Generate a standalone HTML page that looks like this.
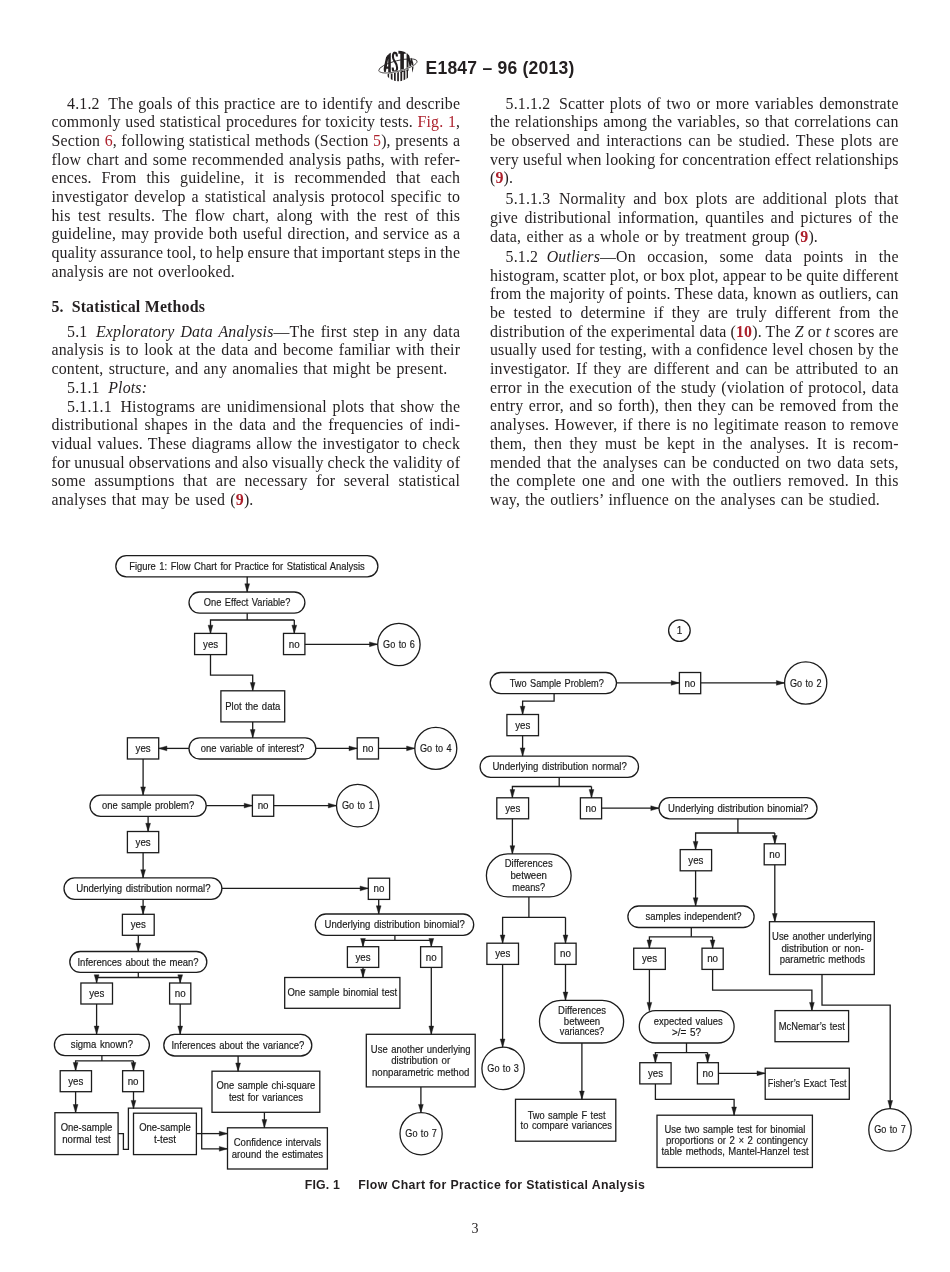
<!DOCTYPE html>
<html><head><meta charset="utf-8"><title>E1847 - 96 (2013)</title>
<style>
html,body{margin:0;padding:0;background:#fff;}
body{width:950px;height:1272px;position:relative;overflow:hidden;font-family:"Liberation Serif",serif;color:#231f20;}
.l{position:absolute;white-space:nowrap;font-size:15.90px;line-height:20px;height:20px;text-align:justify;text-align-last:justify;letter-spacing:0.15px;word-spacing:-1.6px;}
.r{color:#ac1f2b;}
.ns{display:inline-block;width:8.6px;}
.hd{position:absolute;left:425.5px;top:58.4px;font-family:"Liberation Sans",sans-serif;font-weight:bold;font-size:17.5px;letter-spacing:0.24px;line-height:20px;white-space:nowrap;color:#231f20;}
.cap{position:absolute;top:1176.7px;font-family:"Liberation Sans",sans-serif;font-weight:bold;font-size:12.3px;line-height:16px;white-space:pre;color:#231f20;}
.pn{position:absolute;left:465px;top:1221.1px;width:20px;text-align:center;font-size:14px;line-height:16px;}
svg.fc{position:absolute;left:0;top:0;}
svg.fc rect,svg.fc circle,svg.fc path{fill:none;stroke:#1c1c1c;stroke-width:1.30;}
svg.fc polygon.ah{fill:#1c1c1c;stroke:#1c1c1c;stroke-width:0.4;}
svg.fc text{font-family:"Liberation Sans",sans-serif;fill:#1a1a1a;stroke:#1a1a1a;stroke-width:0.18px;text-anchor:middle;word-spacing:1px;}
#pg{position:absolute;left:0;top:0;width:950px;height:1272px;will-change:transform;}
</style></head><body><div id="pg">
<svg style="position:absolute;left:370px;top:44px" width="60" height="44" viewBox="0 0 60 44">
<defs><clipPath id="lg"><circle cx="28.3" cy="22.0" r="15.2"/></clipPath></defs>
<g clip-path="url(#lg)" fill="#231f20">
<rect x="17.6" y="22" width="1.5" height="17"/>
<rect x="20.8" y="22" width="1.7" height="17"/>
<rect x="24.0" y="22" width="1.7" height="17"/>
<rect x="27.2" y="22" width="1.7" height="17"/>
<rect x="30.4" y="22" width="1.8" height="17"/>
<rect x="33.6" y="22" width="1.7" height="17"/>
<rect x="36.6" y="22" width="1.4" height="17"/>
</g>
<ellipse cx="27.90" cy="21.90" rx="19.70" ry="5.30" transform="rotate(-14.0 27.90 21.90)" fill="#fff" stroke="#fff" stroke-width="1.6"/>
<ellipse cx="27.90" cy="21.90" rx="19.70" ry="5.30" transform="rotate(-14.0 27.90 21.90)" fill="none" stroke="#231f20" stroke-width="0.8"/>
<g clip-path="url(#lg)" fill="#231f20" fill-rule="evenodd">
<path d="M12.6 29.4 L16.9 9.0 L20.8 7.0 L20.8 29.6 L18.2 29.6 L18.2 24.8 L16.4 24.8 L15.5 29.6 Z M16.8 22.6 L18.2 22.6 L18.2 14.5 Z"/>
<path d="M26.9 12.6 C26.9 7.4 22.9 7.4 22.9 12.4 C22.9 17.8 27.1 17.4 27.1 23.8 C27.1 29.2 22.7 29.2 22.7 23.6" fill="none" stroke="#231f20" stroke-width="2.1"/>
<path d="M28.4 6.0 L35.8 6.0 L35.8 9.8 L33.9 9.8 L33.9 27.8 L30.3 28.4 L30.3 9.8 L28.4 9.8 Z"/>
<path d="M36.6 27.2 L36.6 8.0 L38.7 8.0 L40.3 17.0 L41.7 11.0 L44.4 11.0 L44.4 31.0 L42.0 31.0 L42.0 18.6 L40.9 23.6 L39.7 23.6 L38.5 16.6 L38.5 26.8 Z"/>
</g>
<path d="M47.04 17.70 L46.95 18.10 L46.76 18.52 L46.48 18.96 L46.10 19.41 L45.64 19.87 L45.10 20.34 L44.46 20.82 L43.75 21.31 L42.96 21.80 L42.10 22.29 L41.17 22.78 L40.17 23.26 L39.12 23.74 L38.01 24.20 L36.85 24.66 L35.64 25.10 L34.40 25.53 L33.13 25.94 L31.83 26.33 L30.51 26.70 L29.18 27.04 L27.85 27.36 L26.51 27.66 L25.18 27.92 L23.86 28.16 L22.57 28.36 L21.30 28.54 L20.06 28.68 L18.86 28.79 L17.70 28.86 L16.60 28.90 L15.54 28.91 L14.55 28.88 L13.63 28.82 L12.77 28.73 L11.99 28.60 L11.28 28.44 L10.66 28.25 L10.12 28.02 L9.66 27.77 L9.30 27.49 L9.02 27.18" fill="none" stroke="#fff" stroke-width="1.6"/>
<path d="M47.04 17.70 L46.95 18.10 L46.76 18.52 L46.48 18.96 L46.10 19.41 L45.64 19.87 L45.10 20.34 L44.46 20.82 L43.75 21.31 L42.96 21.80 L42.10 22.29 L41.17 22.78 L40.17 23.26 L39.12 23.74 L38.01 24.20 L36.85 24.66 L35.64 25.10 L34.40 25.53 L33.13 25.94 L31.83 26.33 L30.51 26.70 L29.18 27.04 L27.85 27.36 L26.51 27.66 L25.18 27.92 L23.86 28.16 L22.57 28.36 L21.30 28.54 L20.06 28.68 L18.86 28.79 L17.70 28.86 L16.60 28.90 L15.54 28.91 L14.55 28.88 L13.63 28.82 L12.77 28.73 L11.99 28.60 L11.28 28.44 L10.66 28.25 L10.12 28.02 L9.66 27.77 L9.30 27.49 L9.02 27.18" fill="none" stroke="#231f20" stroke-width="0.8"/>
</svg>
<div class="hd">E1847 – 96 (2013)</div>
<div class="l" style="left:67.1px;top:93.6px;width:393.0px">4.1.2<span class="ns"></span>The goals of this practice are to identify and describe</div>
<div class="l" style="left:51.5px;top:112.3px;width:408.6px">commonly used statistical procedures for toxicity tests. <span class="r">Fig. 1</span>,</div>
<div class="l" style="left:51.5px;top:131.0px;width:408.6px">Section <span class="r">6</span>, following statistical methods (Section <span class="r">5</span>), presents a</div>
<div class="l" style="left:51.5px;top:149.7px;width:408.6px">flow chart and some recommended analysis paths, with refer-</div>
<div class="l" style="left:51.5px;top:168.4px;width:408.6px">ences. From this guideline, it is recommended that each</div>
<div class="l" style="left:51.5px;top:187.1px;width:408.6px">investigator develop a statistical analysis protocol specific to</div>
<div class="l" style="left:51.5px;top:205.7px;width:408.6px">his test results. The flow chart, along with the rest of this</div>
<div class="l" style="left:51.5px;top:224.4px;width:408.6px">guideline, may provide both useful direction, and service as a</div>
<div class="l" style="left:51.5px;top:243.1px;width:408.6px">quality assurance tool, to help ensure that important steps in the</div>
<div class="l" style="left:51.5px;top:261.8px;width:183.5px">analysis are not overlooked.</div>
<div class="l" style="left:51.5px;top:296.7px;width:11.5px"><b>5.</b></div>
<div class="l" style="left:71.7px;top:296.7px;width:133.3px"><b>Statistical Methods</b></div>
<div class="l" style="left:67.1px;top:321.7px;width:393.0px">5.1<span class="ns"></span><i>Exploratory Data Analysis</i>—The first step in any data</div>
<div class="l" style="left:51.5px;top:340.4px;width:408.6px">analysis is to look at the data and become familiar with their</div>
<div class="l" style="left:51.5px;top:359.1px;width:396.0px">content, structure, and any anomalies that might be present.</div>
<div class="l" style="left:67.1px;top:377.8px;width:77.9px">5.1.1<span class="ns"></span><i>Plots:</i></div>
<div class="l" style="left:67.1px;top:396.5px;width:393.0px">5.1.1.1<span class="ns"></span>Histograms are unidimensional plots that show the</div>
<div class="l" style="left:51.5px;top:415.1px;width:408.6px">distributional shapes in the data and the frequencies of indi-</div>
<div class="l" style="left:51.5px;top:433.8px;width:408.6px">vidual values. These diagrams allow the investigator to check</div>
<div class="l" style="left:51.5px;top:452.5px;width:408.6px">for unusual observations and also visually check the validity of</div>
<div class="l" style="left:51.5px;top:471.2px;width:408.6px">some assumptions that are necessary for several statistical</div>
<div class="l" style="left:51.5px;top:489.9px;width:202.0px">analyses that may be used (<b class="r">9</b>).</div>
<div class="l" style="left:505.6px;top:93.5px;width:393.0px">5.1.1.2<span class="ns"></span>Scatter plots of two or more variables demonstrate</div>
<div class="l" style="left:490.0px;top:112.2px;width:408.6px">the relationships among the variables, so that correlations can</div>
<div class="l" style="left:490.0px;top:130.9px;width:408.6px">be observed and interactions can be studied. These plots are</div>
<div class="l" style="left:490.0px;top:149.6px;width:408.6px">very useful when looking for concentration effect relationships</div>
<div class="l" style="left:490.0px;top:168.3px;width:22.5px">(<b class="r">9</b>).</div>
<div class="l" style="left:505.6px;top:189.3px;width:393.0px">5.1.1.3<span class="ns"></span>Normality and box plots are additional plots that</div>
<div class="l" style="left:490.0px;top:208.0px;width:408.6px">give distributional information, quantiles and pictures of the</div>
<div class="l" style="left:490.0px;top:226.7px;width:328.0px">data, either as a whole or by treatment group (<b class="r">9</b>).</div>
<div class="l" style="left:505.6px;top:246.9px;width:393.0px">5.1.2<span class="ns"></span><i>Outliers</i>—On occasion, some data points in the</div>
<div class="l" style="left:490.0px;top:265.6px;width:408.6px">histogram, scatter plot, or box plot, appear to be quite different</div>
<div class="l" style="left:490.0px;top:284.3px;width:408.6px">from the majority of points. These data, known as outliers, can</div>
<div class="l" style="left:490.0px;top:303.0px;width:408.6px">be tested to determine if they are truly different from the</div>
<div class="l" style="left:490.0px;top:321.7px;width:408.6px">distribution of the experimental data (<b class="r">10</b>). The <i>Z</i> or <i>t</i> scores are</div>
<div class="l" style="left:490.0px;top:340.3px;width:408.6px">usually used for testing, with a confidence level chosen by the</div>
<div class="l" style="left:490.0px;top:359.0px;width:408.6px">investigator. If they are different and can be attributed to an</div>
<div class="l" style="left:490.0px;top:377.7px;width:408.6px">error in the execution of the study (violation of protocol, data</div>
<div class="l" style="left:490.0px;top:396.4px;width:408.6px">entry error, and so forth), then they can be removed from the</div>
<div class="l" style="left:490.0px;top:415.1px;width:408.6px">analyses. However, if there is no legitimate reason to remove</div>
<div class="l" style="left:490.0px;top:433.8px;width:408.6px">them, then they must be kept in the analyses. It is recom-</div>
<div class="l" style="left:490.0px;top:452.5px;width:408.6px">mended that the analyses can be conducted on two data sets,</div>
<div class="l" style="left:490.0px;top:471.2px;width:408.6px">the complete one and one with the outliers removed. In this</div>
<div class="l" style="left:490.0px;top:489.9px;width:390.0px">way, the outliers’ influence on the analyses can be studied.</div>
<svg class="fc" width="950" height="1272" viewBox="0 0 950 1272">
<rect x="115.8" y="555.6" width="262.1" height="21.2" rx="10.6" ry="10.6"/>
<text transform="translate(247.0 569.7) scale(0.887 1)" font-size="10.60">Figure 1: Flow Chart for Practice for Statistical Analysis</text>
<rect x="189.0" y="592.0" width="115.9" height="21.2" rx="10.6" ry="10.6"/>
<text transform="translate(247.1 606.1) scale(0.878 1)" font-size="10.60">One Effect Variable?</text>
<rect x="194.6" y="633.4" width="31.9" height="21.2"/>
<text transform="translate(210.6 647.5) scale(0.915 1)" font-size="10.60">yes</text>
<rect x="283.5" y="633.4" width="21.4" height="21.2"/>
<text transform="translate(294.2 647.5) scale(0.924 1)" font-size="10.60">no</text>
<circle cx="398.9" cy="644.5" r="21.2"/>
<text transform="translate(398.9 648.0) scale(0.860 1)" font-size="10.60">Go to 6</text>
<rect x="220.9" y="690.8" width="63.8" height="31.1"/>
<text transform="translate(252.8 709.8) scale(0.897 1)" font-size="10.60">Plot the data</text>
<rect x="189.0" y="737.8" width="126.8" height="21.2" rx="10.6" ry="10.6"/>
<text transform="translate(252.4 751.9) scale(0.893 1)" font-size="10.60">one variable of interest?</text>
<rect x="127.4" y="737.8" width="31.3" height="21.2"/>
<text transform="translate(143.1 751.9) scale(0.915 1)" font-size="10.60">yes</text>
<rect x="357.2" y="737.8" width="21.3" height="21.2"/>
<text transform="translate(367.9 751.9) scale(0.924 1)" font-size="10.60">no</text>
<circle cx="435.8" cy="748.4" r="21.0"/>
<text transform="translate(435.8 751.9) scale(0.860 1)" font-size="10.60">Go to 4</text>
<rect x="90.0" y="795.1" width="116.2" height="21.2" rx="10.6" ry="10.6"/>
<text transform="translate(148.1 809.2) scale(0.887 1)" font-size="10.60">one sample problem?</text>
<rect x="252.4" y="795.1" width="21.3" height="21.2"/>
<text transform="translate(263.1 809.2) scale(0.924 1)" font-size="10.60">no</text>
<circle cx="357.7" cy="805.6" r="21.2"/>
<text transform="translate(357.7 809.1) scale(0.860 1)" font-size="10.60">Go to 1</text>
<rect x="127.4" y="831.5" width="31.3" height="21.2"/>
<text transform="translate(143.1 845.6) scale(0.915 1)" font-size="10.60">yes</text>
<rect x="64.0" y="877.9" width="157.9" height="21.4" rx="10.7" ry="10.7"/>
<text transform="translate(143.4 892.1) scale(0.909 1)" font-size="10.60">Underlying distribution normal?</text>
<rect x="368.3" y="878.2" width="21.3" height="21.2"/>
<text transform="translate(379.0 892.3) scale(0.924 1)" font-size="10.60">no</text>
<rect x="122.4" y="914.3" width="31.8" height="21.0"/>
<text transform="translate(138.3 928.3) scale(0.915 1)" font-size="10.60">yes</text>
<rect x="315.3" y="914.0" width="158.4" height="21.3" rx="10.6" ry="10.6"/>
<text transform="translate(394.7 928.1) scale(0.904 1)" font-size="10.60">Underlying distribution binomial?</text>
<rect x="69.8" y="951.5" width="137.0" height="20.9" rx="10.4" ry="10.4"/>
<text transform="translate(138.0 965.5) scale(0.898 1)" font-size="10.60">Inferences about the mean?</text>
<rect x="347.4" y="946.7" width="31.3" height="20.7"/>
<text transform="translate(363.0 960.5) scale(0.915 1)" font-size="10.60">yes</text>
<rect x="420.6" y="946.7" width="21.3" height="20.7"/>
<text transform="translate(431.2 960.5) scale(0.924 1)" font-size="10.60">no</text>
<rect x="284.7" y="977.5" width="115.2" height="30.8"/>
<text transform="translate(342.3 996.4) scale(0.895 1)" font-size="10.60">One sample binomial test</text>
<rect x="80.9" y="983.0" width="31.6" height="21.0"/>
<text transform="translate(96.7 997.0) scale(0.915 1)" font-size="10.60">yes</text>
<rect x="169.6" y="983.0" width="21.2" height="21.0"/>
<text transform="translate(180.2 997.0) scale(0.924 1)" font-size="10.60">no</text>
<rect x="54.4" y="1034.3" width="95.0" height="21.3" rx="10.6" ry="10.6"/>
<text transform="translate(101.9 1048.4) scale(0.905 1)" font-size="10.60">sigma known?</text>
<rect x="163.8" y="1034.3" width="148.0" height="21.7" rx="10.9" ry="10.9"/>
<text transform="translate(237.8 1048.7) scale(0.895 1)" font-size="10.60">Inferences about the variance?</text>
<rect x="366.3" y="1034.3" width="108.9" height="52.6"/>
<text transform="translate(420.7 1052.5) scale(0.894 1)" font-size="10.60">Use another underlying</text>
<text transform="translate(420.7 1064.1) scale(0.914 1)" font-size="10.60">distribution or</text>
<text transform="translate(420.7 1076.0) scale(0.911 1)" font-size="10.60">nonparametric method</text>
<rect x="60.2" y="1070.7" width="31.3" height="21.0"/>
<text transform="translate(75.8 1084.7) scale(0.915 1)" font-size="10.60">yes</text>
<rect x="122.6" y="1070.7" width="21.0" height="21.0"/>
<text transform="translate(133.1 1084.7) scale(0.924 1)" font-size="10.60">no</text>
<rect x="212.0" y="1071.2" width="107.8" height="41.1"/>
<text transform="translate(265.9 1089.4) scale(0.886 1)" font-size="10.60">One sample chi-square</text>
<text transform="translate(265.9 1100.5) scale(0.897 1)" font-size="10.60">test for variances</text>
<rect x="54.9" y="1112.7" width="63.2" height="41.9"/>
<text transform="translate(86.5 1130.8) scale(0.895 1)" font-size="10.60">One-sample</text>
<text transform="translate(86.5 1143.0) scale(0.908 1)" font-size="10.60">normal test</text>
<rect x="133.5" y="1113.2" width="62.9" height="41.4"/>
<text transform="translate(165.0 1130.8) scale(0.895 1)" font-size="10.60">One-sample</text>
<text transform="translate(165.0 1143.0) scale(0.942 1)" font-size="10.60">t-test</text>
<rect x="227.5" y="1127.8" width="99.9" height="41.2"/>
<text transform="translate(277.4 1146.2) scale(0.902 1)" font-size="10.60">Confidence intervals</text>
<text transform="translate(277.4 1158.1) scale(0.905 1)" font-size="10.60">around the estimates</text>
<circle cx="421.1" cy="1133.7" r="21.1"/>
<text transform="translate(421.1 1137.2) scale(0.860 1)" font-size="10.60">Go to 7</text>
<path d="M247.2 576.8 L247.2 592.0"/>
<polygon class="ah" points="247.2,592.0 244.8,583.8 249.6,583.8"/>
<path d="M247.2 613.2 L247.2 620.0"/>
<path d="M294.3 620.0 L210.5 620.0 L210.5 633.4"/>
<polygon class="ah" points="210.5,633.4 208.1,625.2 212.9,625.2"/>
<path d="M294.3 620.0 L294.3 633.4"/>
<polygon class="ah" points="294.3,633.4 291.9,625.2 296.7,625.2"/>
<path d="M304.9 644.3 L377.7 644.3"/>
<polygon class="ah" points="377.7,644.3 369.5,646.7 369.5,641.9"/>
<path d="M210.5 654.6 L210.5 675.1 L252.7 675.1 L252.7 690.8"/>
<polygon class="ah" points="252.7,690.8 250.3,682.6 255.1,682.6"/>
<path d="M252.7 721.9 L252.7 737.8"/>
<polygon class="ah" points="252.7,737.8 250.3,729.6 255.1,729.6"/>
<path d="M189.0 748.4 L158.7 748.4"/>
<polygon class="ah" points="158.7,748.4 166.9,746.0 166.9,750.8"/>
<path d="M315.8 748.4 L357.2 748.4"/>
<polygon class="ah" points="357.2,748.4 349.0,750.8 349.0,746.0"/>
<path d="M378.5 748.4 L414.8 748.4"/>
<polygon class="ah" points="414.8,748.4 406.6,750.8 406.6,746.0"/>
<path d="M143.1 759.0 L143.1 795.1"/>
<polygon class="ah" points="143.1,795.1 140.7,786.9 145.5,786.9"/>
<path d="M206.2 805.6 L252.4 805.6"/>
<polygon class="ah" points="252.4,805.6 244.2,808.0 244.2,803.2"/>
<path d="M273.7 805.6 L336.5 805.6"/>
<polygon class="ah" points="336.5,805.6 328.3,808.0 328.3,803.2"/>
<path d="M148.1 816.3 L148.1 831.5"/>
<polygon class="ah" points="148.1,831.5 145.7,823.3 150.5,823.3"/>
<path d="M143.1 852.7 L143.1 877.9"/>
<polygon class="ah" points="143.1,877.9 140.7,869.7 145.5,869.7"/>
<path d="M221.9 888.4 L368.3 888.4"/>
<polygon class="ah" points="368.3,888.4 360.1,890.8 360.1,886.0"/>
<path d="M143.1 899.3 L143.1 914.3"/>
<polygon class="ah" points="143.1,914.3 140.7,906.1 145.5,906.1"/>
<path d="M138.3 935.3 L138.3 951.5"/>
<polygon class="ah" points="138.3,951.5 135.9,943.3 140.7,943.3"/>
<path d="M378.7 899.4 L378.7 914.0"/>
<polygon class="ah" points="378.7,914.0 376.3,905.8 381.1,905.8"/>
<path d="M394.9 935.3 L394.9 940.3"/>
<path d="M431.3 940.3 L363.0 940.3 L363.0 946.7"/>
<polygon class="ah" points="363.0,946.7 360.6,938.5 365.4,938.5"/>
<path d="M431.3 940.3 L431.3 946.7"/>
<polygon class="ah" points="431.3,946.7 428.9,938.5 433.7,938.5"/>
<path d="M363.0 967.4 L363.0 977.5"/>
<polygon class="ah" points="363.0,977.5 360.6,969.3 365.4,969.3"/>
<path d="M431.3 967.4 L431.3 1034.3"/>
<polygon class="ah" points="431.3,1034.3 428.9,1026.1 433.7,1026.1"/>
<path d="M420.9 1086.9 L420.9 1112.6"/>
<polygon class="ah" points="420.9,1112.6 418.5,1104.4 423.3,1104.4"/>
<path d="M138.3 972.4 L138.3 977.5"/>
<path d="M180.2 977.5 L96.6 977.5 L96.6 983.0"/>
<polygon class="ah" points="96.6,983.0 94.2,974.8 99.0,974.8"/>
<path d="M180.2 977.5 L180.2 983.0"/>
<polygon class="ah" points="180.2,983.0 177.8,974.8 182.6,974.8"/>
<path d="M96.6 1004.0 L96.6 1034.3"/>
<polygon class="ah" points="96.6,1034.3 94.2,1026.1 99.0,1026.1"/>
<path d="M180.2 1004.0 L180.2 1034.3"/>
<polygon class="ah" points="180.2,1034.3 177.8,1026.1 182.6,1026.1"/>
<path d="M101.9 1055.6 L101.9 1060.9"/>
<path d="M133.5 1060.9 L75.6 1060.9 L75.6 1070.7"/>
<polygon class="ah" points="75.6,1070.7 73.2,1062.5 78.0,1062.5"/>
<path d="M133.5 1060.9 L133.5 1070.7"/>
<polygon class="ah" points="133.5,1070.7 131.1,1062.5 135.9,1062.5"/>
<path d="M75.6 1091.7 L75.6 1112.7"/>
<polygon class="ah" points="75.6,1112.7 73.2,1104.5 78.0,1104.5"/>
<path d="M133.5 1091.7 L133.5 1108.6"/>
<polygon class="ah" points="133.5,1108.6 131.1,1100.4 135.9,1100.4"/>
<path d="M118.1 1133.6 L123.4 1133.6 L123.4 1149.3 L128.4 1149.3 L128.4 1108.1 L201.7 1108.1 L201.7 1148.8 L227.5 1148.8"/>
<polygon class="ah" points="227.5,1148.8 219.3,1151.2 219.3,1146.4"/>
<path d="M196.4 1133.6 L227.5 1133.6"/>
<polygon class="ah" points="227.5,1133.6 219.3,1136.0 219.3,1131.2"/>
<path d="M238.1 1056.0 L238.1 1071.2"/>
<polygon class="ah" points="238.1,1071.2 235.7,1063.0 240.5,1063.0"/>
<path d="M264.4 1112.3 L264.4 1127.8"/>
<polygon class="ah" points="264.4,1127.8 262.0,1119.6 266.8,1119.6"/>
<circle cx="679.4" cy="630.6" r="10.8"/>
<text transform="translate(679.4 634.3) scale(0.950 1)" font-size="10.50">1</text>
<rect x="490.2" y="672.5" width="126.3" height="21.2" rx="10.6" ry="10.6"/>
<text transform="translate(556.8 686.6) scale(0.867 1)" font-size="10.60">Two Sample Problem?</text>
<rect x="679.4" y="672.5" width="21.3" height="21.2"/>
<text transform="translate(690.0 686.6) scale(0.924 1)" font-size="10.60">no</text>
<circle cx="805.7" cy="683.0" r="21.1"/>
<text transform="translate(805.7 686.5) scale(0.860 1)" font-size="10.60">Go to 2</text>
<rect x="506.9" y="714.5" width="31.6" height="21.2"/>
<text transform="translate(522.7 728.6) scale(0.915 1)" font-size="10.60">yes</text>
<rect x="480.1" y="756.1" width="158.4" height="21.3" rx="10.6" ry="10.6"/>
<text transform="translate(559.6 770.2) scale(0.909 1)" font-size="10.60">Underlying distribution normal?</text>
<rect x="496.8" y="797.8" width="31.8" height="21.0"/>
<text transform="translate(512.7 811.8) scale(0.915 1)" font-size="10.60">yes</text>
<rect x="580.4" y="797.8" width="21.2" height="21.0"/>
<text transform="translate(591.0 811.8) scale(0.924 1)" font-size="10.60">no</text>
<rect x="659.0" y="797.6" width="158.0" height="21.2" rx="10.6" ry="10.6"/>
<text transform="translate(738.2 811.7) scale(0.904 1)" font-size="10.60">Underlying distribution binomial?</text>
<rect x="486.4" y="853.9" width="84.7" height="43.0" rx="21.5" ry="21.5"/>
<text transform="translate(528.7 867.3) scale(0.899 1)" font-size="10.60">Differences</text>
<text transform="translate(528.7 878.7) scale(0.911 1)" font-size="10.60">between</text>
<text transform="translate(528.7 890.5) scale(0.870 1)" font-size="10.60">means?</text>
<rect x="680.2" y="849.6" width="31.4" height="21.2"/>
<text transform="translate(695.9 863.7) scale(0.915 1)" font-size="10.60">yes</text>
<rect x="764.2" y="843.8" width="21.2" height="21.0"/>
<text transform="translate(774.8 857.8) scale(0.924 1)" font-size="10.60">no</text>
<rect x="627.9" y="906.0" width="126.2" height="21.5" rx="10.8" ry="10.8"/>
<text transform="translate(693.6 920.2) scale(0.893 1)" font-size="10.60">samples independent?</text>
<rect x="769.5" y="921.7" width="104.8" height="52.8"/>
<text transform="translate(821.9 939.9) scale(0.894 1)" font-size="10.60">Use another underlying</text>
<text transform="translate(822.5 951.5) scale(0.917 1)" font-size="10.60">distribution or non-</text>
<text transform="translate(822.3 963.4) scale(0.902 1)" font-size="10.60">parametric methods</text>
<rect x="486.9" y="943.2" width="31.6" height="21.2"/>
<text transform="translate(502.7 957.3) scale(0.915 1)" font-size="10.60">yes</text>
<rect x="554.9" y="943.2" width="21.2" height="21.2"/>
<text transform="translate(565.5 957.3) scale(0.924 1)" font-size="10.60">no</text>
<rect x="633.7" y="948.2" width="31.6" height="21.2"/>
<text transform="translate(649.5 962.3) scale(0.915 1)" font-size="10.60">yes</text>
<rect x="702.0" y="948.2" width="21.2" height="21.2"/>
<text transform="translate(712.6 962.3) scale(0.924 1)" font-size="10.60">no</text>
<rect x="539.5" y="1000.3" width="84.1" height="42.7" rx="21.4" ry="21.4"/>
<text transform="translate(582.0 1014.4) scale(0.899 1)" font-size="10.60">Differences</text>
<text transform="translate(582.0 1025.0) scale(0.911 1)" font-size="10.60">between</text>
<text transform="translate(582.0 1035.4) scale(0.868 1)" font-size="10.60">variances?</text>
<rect x="639.3" y="1010.6" width="94.8" height="32.4" rx="16.2" ry="16.2"/>
<text transform="translate(688.2 1025.3) scale(0.889 1)" font-size="10.60">expected values</text>
<text transform="translate(686.6 1035.9) scale(0.937 1)" font-size="10.60">&gt;/= 5?</text>
<rect x="775.0" y="1010.6" width="73.6" height="31.1"/>
<text transform="translate(811.8 1029.7) scale(0.882 1)" font-size="10.60">McNemar’s test</text>
<circle cx="503.1" cy="1068.4" r="21.2"/>
<text transform="translate(503.1 1071.9) scale(0.860 1)" font-size="10.60">Go to 3</text>
<rect x="639.8" y="1062.7" width="31.3" height="21.2"/>
<text transform="translate(655.5 1076.8) scale(0.915 1)" font-size="10.60">yes</text>
<rect x="697.4" y="1062.7" width="21.0" height="21.2"/>
<text transform="translate(707.9 1076.8) scale(0.924 1)" font-size="10.60">no</text>
<rect x="765.2" y="1068.2" width="84.1" height="31.1"/>
<text transform="translate(807.2 1087.2) scale(0.866 1)" font-size="10.60">Fisher’s Exact Test</text>
<rect x="515.5" y="1099.3" width="100.3" height="41.9"/>
<text transform="translate(566.6 1118.8) scale(0.877 1)" font-size="10.60">Two sample F test</text>
<text transform="translate(566.3 1129.4) scale(0.885 1)" font-size="10.60">to compare variances</text>
<rect x="657.0" y="1115.2" width="155.4" height="52.3"/>
<text transform="translate(735.0 1133.4) scale(0.892 1)" font-size="10.60">Use two sample test for binomial</text>
<text transform="translate(736.8 1144.0) scale(0.907 1)" font-size="10.60">proportions or 2 × 2 contingency</text>
<text transform="translate(735.0 1154.9) scale(0.899 1)" font-size="10.60">table methods, Mantel-Hanzel test</text>
<circle cx="890.0" cy="1129.9" r="21.2"/>
<text transform="translate(890.0 1133.4) scale(0.860 1)" font-size="10.60">Go to 7</text>
<path d="M616.5 682.9 L679.4 682.9"/>
<polygon class="ah" points="679.4,682.9 671.2,685.3 671.2,680.5"/>
<path d="M700.7 682.9 L784.6 682.9"/>
<polygon class="ah" points="784.6,682.9 776.4,685.3 776.4,680.5"/>
<path d="M554.1 693.7 L554.1 701.1 L522.6 701.1 L522.6 714.5"/>
<polygon class="ah" points="522.6,714.5 520.2,706.3 525.0,706.3"/>
<path d="M522.6 735.7 L522.6 756.1"/>
<polygon class="ah" points="522.6,756.1 520.2,747.9 525.0,747.9"/>
<path d="M559.2 777.4 L559.2 786.5"/>
<path d="M591.5 786.5 L512.4 786.5 L512.4 797.8"/>
<polygon class="ah" points="512.4,797.8 510.0,789.6 514.8,789.6"/>
<path d="M591.5 786.5 L591.5 797.8"/>
<polygon class="ah" points="591.5,797.8 589.1,789.6 593.9,789.6"/>
<path d="M601.6 808.2 L659.0 808.2"/>
<polygon class="ah" points="659.0,808.2 650.8,810.6 650.8,805.8"/>
<path d="M512.4 818.8 L512.4 853.9"/>
<polygon class="ah" points="512.4,853.9 510.0,845.7 514.8,845.7"/>
<path d="M737.9 818.8 L737.9 833.0"/>
<path d="M774.8 833.0 L695.6 833.0 L695.6 849.6"/>
<polygon class="ah" points="695.6,849.6 693.2,841.4 698.0,841.4"/>
<path d="M774.8 833.0 L774.8 843.8"/>
<polygon class="ah" points="774.8,843.8 772.4,835.6 777.2,835.6"/>
<path d="M695.6 870.8 L695.6 906.0"/>
<polygon class="ah" points="695.6,906.0 693.2,897.8 698.0,897.8"/>
<path d="M774.8 864.8 L774.8 921.7"/>
<polygon class="ah" points="774.8,921.7 772.4,913.5 777.2,913.5"/>
<path d="M528.9 896.9 L528.9 917.4"/>
<path d="M565.5 917.4 L502.6 917.4 L502.6 943.2"/>
<polygon class="ah" points="502.6,943.2 500.2,935.0 505.0,935.0"/>
<path d="M565.5 917.4 L565.5 943.2"/>
<polygon class="ah" points="565.5,943.2 563.1,935.0 567.9,935.0"/>
<path d="M502.6 964.4 L502.6 1047.2"/>
<polygon class="ah" points="502.6,1047.2 500.2,1039.0 505.0,1039.0"/>
<path d="M565.5 964.4 L565.5 1000.3"/>
<polygon class="ah" points="565.5,1000.3 563.1,992.1 567.9,992.1"/>
<path d="M581.9 1043.0 L581.9 1099.3"/>
<polygon class="ah" points="581.9,1099.3 579.5,1091.1 584.3,1091.1"/>
<path d="M691.3 927.5 L691.3 936.8"/>
<path d="M712.6 936.8 L649.4 936.8 L649.4 948.2"/>
<polygon class="ah" points="649.4,948.2 647.0,940.0 651.8,940.0"/>
<path d="M712.6 936.8 L712.6 948.2"/>
<polygon class="ah" points="712.6,948.2 710.2,940.0 715.0,940.0"/>
<path d="M649.4 969.4 L649.4 1010.6"/>
<polygon class="ah" points="649.4,1010.6 647.0,1002.4 651.8,1002.4"/>
<path d="M712.6 969.4 L712.6 990.2 L811.9 990.2 L811.9 1010.6"/>
<polygon class="ah" points="811.9,1010.6 809.5,1002.4 814.3,1002.4"/>
<path d="M822.0 974.5 L822.0 1005.1 L890.2 1005.1 L890.2 1108.7"/>
<polygon class="ah" points="890.2,1108.7 887.8,1100.5 892.6,1100.5"/>
<path d="M686.5 1043.0 L686.5 1052.6"/>
<path d="M707.6 1052.6 L655.4 1052.6 L655.4 1062.7"/>
<polygon class="ah" points="655.4,1062.7 653.0,1054.5 657.8,1054.5"/>
<path d="M707.6 1052.6 L707.6 1062.7"/>
<polygon class="ah" points="707.6,1062.7 705.2,1054.5 710.0,1054.5"/>
<path d="M718.4 1073.3 L765.2 1073.3"/>
<polygon class="ah" points="765.2,1073.3 757.0,1075.7 757.0,1070.9"/>
<path d="M655.4 1083.9 L655.4 1099.3 L734.1 1099.3 L734.1 1115.2"/>
<polygon class="ah" points="734.1,1115.2 731.7,1107.0 736.5,1107.0"/>
</svg>
<div class="cap" style="left:304.8px;letter-spacing:0.155px">FIG. 1</div>
<div class="cap" style="left:358.2px;letter-spacing:0.364px">Flow Chart for Practice for Statistical Analysis</div>
<div class="pn">3</div>
</div></body></html>
